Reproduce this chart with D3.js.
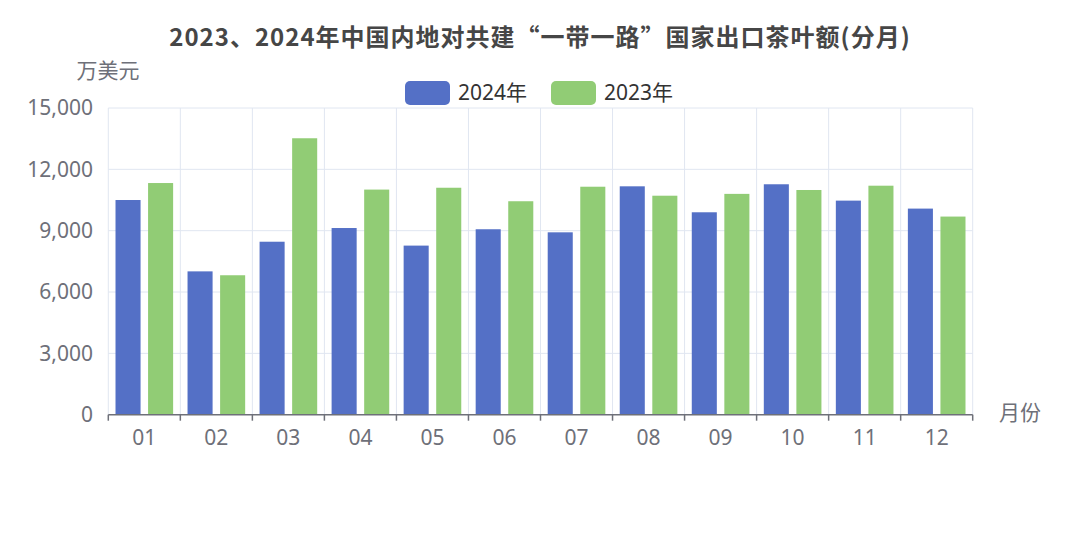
<!DOCTYPE html>
<html><head><meta charset="utf-8">
<script src="https://cdn.jsdelivr.net/npm/d3@7/dist/d3.min.js"></script>
<style>body{margin:0;background:#fff;} svg{display:block;font-family:"Noto Sans","Noto Sans CJK SC",sans-serif;}</style>
</head><body><svg id="c" width="1080" height="540"></svg>
<script>
const months = ["01","02","03","04","05","06","07","08","09","10","11","12"];
const series2024 = [10500, 7010, 8460, 9130, 8270, 9070, 8920, 11170, 9900, 11270, 10470, 10080];
const series2023 = [11330, 6820, 13520, 11010, 11100, 10440, 11150, 10710, 10800, 10990, 11200, 9690];
const yTicks = [0, 3000, 6000, 9000, 12000, 15000];
const seriesNames = ["2024年", "2023年"];
const colors = ["#5470c6", "#91cc75"];
const title = "2023、2024年中国内地对共建“一带一路”国家出口茶叶额(分月)";

const svg = d3.select("#c");
const L = 108.3, R = 972.7, T = 108, B = 414.7;
const x = d3.scaleBand().domain(months).range([L, R]).paddingInner(0).paddingOuter(0);
const y = d3.scaleLinear().domain([0, 15000]).range([B, T]);
const bw = x.bandwidth();
const barW = bw * 0.8 / 2.3;
const gap = barW * 0.3;
const off = bw * 0.1;

// grid horizontal
svg.append("g").selectAll("line").data(yTicks.slice(1)).join("line")
  .attr("x1", L).attr("x2", R).attr("y1", d => y(d)).attr("y2", d => y(d))
  .attr("stroke", "#e0e6f1").attr("stroke-width", 1);
// grid vertical
const bounds = months.map(m => x(m)).concat([R]);
svg.append("g").selectAll("line").data(bounds).join("line")
  .attr("x1", d => d).attr("x2", d => d).attr("y1", T).attr("y2", B)
  .attr("stroke", "#e0e6f1").attr("stroke-width", 1);

// bars
const data = [series2024, series2023];
data.forEach((s, i) => {
  svg.append("g").selectAll("rect").data(s).join("rect")
    .attr("x", (d, j) => x(months[j]) + off + i * (barW + gap))
    .attr("y", d => y(d))
    .attr("width", barW)
    .attr("height", d => B - y(d))
    .attr("fill", colors[i]);
});

// y axis labels
svg.append("g").selectAll("text").data(yTicks).join("text")
  .attr("x", 93).attr("y", d => y(d)).attr("dy", "0.35em")
  .attr("text-anchor", "end").attr("fill", "#6e7079").attr("font-size", 21)
  .text(d => d3.format(",")(d));

// x axis line
svg.append("line").attr("x1", L).attr("x2", R).attr("y1", B).attr("y2", B)
  .attr("stroke", "#6e7079").attr("stroke-width", 1.5);
svg.append("g").selectAll("line").data(bounds).join("line")
  .attr("x1", d => d).attr("x2", d => d).attr("y1", B).attr("y2", B + 6)
  .attr("stroke", "#6e7079").attr("stroke-width", 1.5);
svg.append("g").selectAll("text").data(months).join("text")
  .attr("x", d => x(d) + bw / 2).attr("y", 438).attr("dy", "0.35em")
  .attr("text-anchor", "middle").attr("fill", "#6e7079").attr("font-size", 21)
  .text(d => d);

// axis names
svg.append("text").attr("x", 108).attr("y", 71).attr("dy", "0.35em")
  .attr("text-anchor", "middle").attr("fill", "#6e7079").attr("font-size", 21).text("万美元");
svg.append("text").attr("x", 999).attr("y", 413).attr("dy", "0.35em")
  .attr("text-anchor", "start").attr("fill", "#6e7079").attr("font-size", 21).text("月份");

// title
svg.append("text").attr("x", 540).attr("y", 38).attr("dy", "0.35em")
  .attr("text-anchor", "middle").attr("fill", "#464646").attr("font-size", 24)
  .attr("letter-spacing", 1)
  .attr("font-weight", "bold").attr("font-family", "'Noto Sans CJK SC',sans-serif").text(title);

// legend
const legX = [405, 551];
seriesNames.forEach((n, i) => {
  svg.append("rect").attr("x", legX[i]).attr("y", 81).attr("width", 45).attr("height", 24)
    .attr("rx", 5).attr("fill", colors[i]);
  svg.append("text").attr("x", legX[i] + 53).attr("y", 93).attr("dy", "0.35em")
    .attr("fill", "#333").attr("font-size", 21).text(n);
});
</script></body></html>
